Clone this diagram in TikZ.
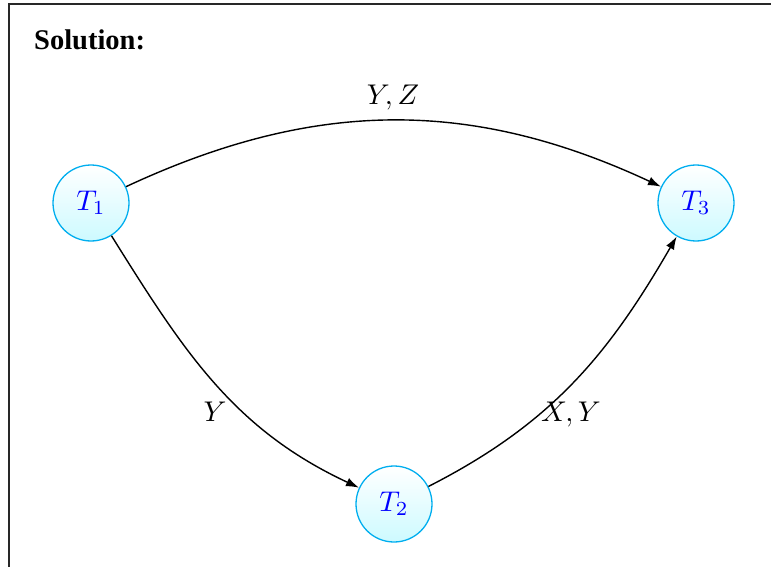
\documentclass[tikz,border=0pt]{standalone}
\usepackage{fontspec}
\usepackage{graphicx}
\newfontfamily\solfont{LiberationSerif-Bold.ttf}
\usetikzlibrary{arrows.meta}
\definecolor{ringcyan}{RGB}{0,174,239}
\definecolor{lightcyan}{RGB}{205,250,255}
\definecolor{framegray}{RGB}{40,40,40}
\newcommand{\mbigtext}[1]{\scalebox{2.85}{$#1$}}
\tikzset{
  tnode/.style={circle, draw=ringcyan, line width=1.3pt, minimum size=76pt, inner sep=0pt,
    top color=white, bottom color=lightcyan, text=blue},
  conn/.style={draw=black, line width=1.4pt, -{Latex[length=13pt,width=9pt]}},
  elabel/.style={anchor=base, inner sep=0pt}
}
\begin{document}
\begin{tikzpicture}[x=1pt,y=-1pt]
\useasboundingbox (0,0) rectangle (771,567);
\draw[framegray, line width=2pt] (8.5,567) -- (8.5,4) -- (771,4);
\node[anchor=base west, inner sep=0pt, font=\solfont\fontsize{28.5}{34}\selectfont] (sol) at (34,50) {Solution:};
\node[tnode] (t1) at (91,203) {\mbigtext{T_1}};
\node[tnode] (t2) at (394,504) {\mbigtext{T_2}};
\node[tnode] (t3) at (696,203) {\mbigtext{T_3}};
\draw[conn] (t1) to[bend left=25] (t3);
\draw[conn] (t1) to[out=-58, in=155] (t2);
\draw[conn] (t2) to[out=27, in=240] (t3);
\node[elabel] (lyz) at (393,105) {\mbigtext{Y,Z}};
\node[elabel] (ly) at (215,421) {\mbigtext{Y}};
\node[elabel] (lxy) at (571,421) {\mbigtext{X,Y}};
\end{tikzpicture}
\end{document}
